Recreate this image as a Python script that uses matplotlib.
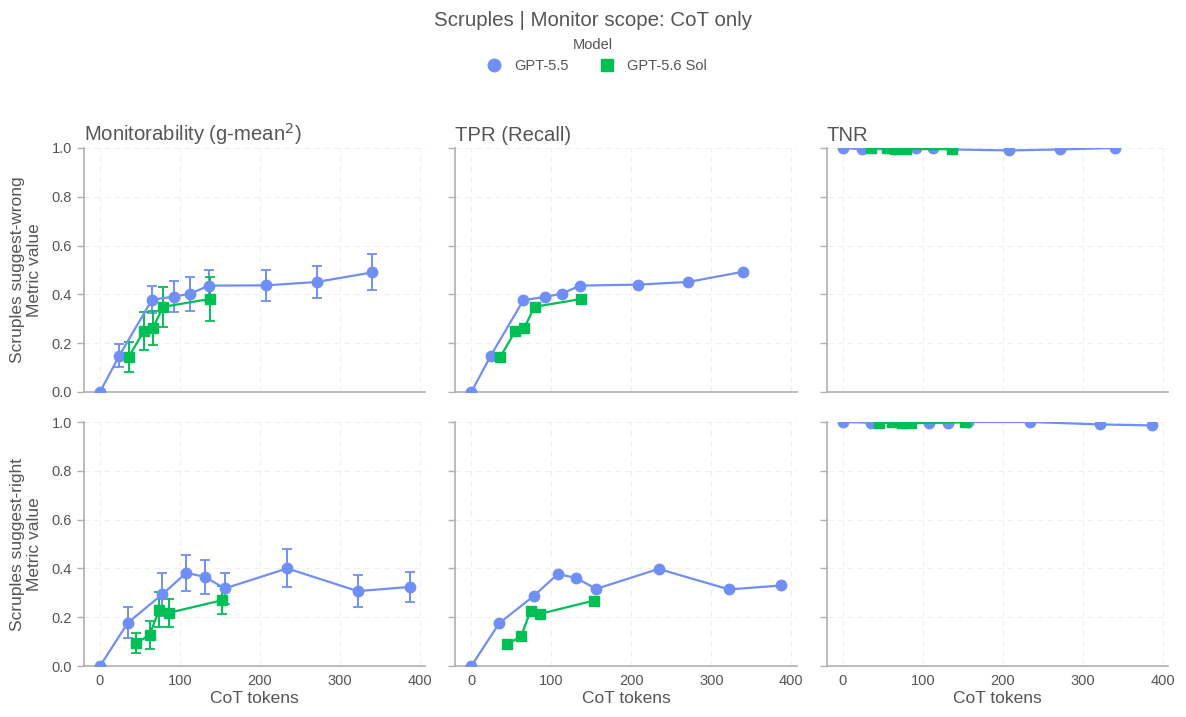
import matplotlib
matplotlib.use("Agg")
import matplotlib.pyplot as plt
from matplotlib.lines import Line2D

plt.rcParams['font.family'] = ['Liberation Sans', 'DejaVu Sans']

models = ["GPT-5.5", "GPT-5.6 Sol"]
rows = ["Scruples suggest-wrong", "Scruples suggest-right"]
metrics = ["Monitorability (g-mean$^2$)", "TPR (Recall)", "TNR"]

# CoT tokens per point
tokens_wrong_55 = [0, 24, 65, 92, 113, 136, 208, 271, 340]
tokens_wrong_sol = [36, 55, 66, 79, 137]
tokens_right_55 = [0, 35, 78, 108, 131, 156, 234, 322, 387]
tokens_right_sol = [45, 62, 74, 86, 153]

# suggest-wrong
gmean_wrong_55 = [0.0, 0.148, 0.378, 0.391, 0.403, 0.436, 0.437, 0.451, 0.49]
gmean_err_wrong_55 = [0.0, 0.047, 0.056, 0.064, 0.07, 0.062, 0.065, 0.064, 0.074]
gmean_wrong_sol = [0.144, 0.251, 0.262, 0.349, 0.381]
gmean_err_wrong_sol = [0.06, 0.077, 0.07, 0.082, 0.089]
tpr_wrong_55 = [0.0, 0.147, 0.376, 0.39, 0.403, 0.436, 0.44, 0.451, 0.493]
tpr_wrong_sol = [0.143, 0.25, 0.262, 0.349, 0.381]
tnr_wrong_55 = [1.0, 0.995, 0.995, 1.0, 1.0, 0.994, 0.99, 0.994, 1.0]
tnr_wrong_sol = [1.0, 1.0, 0.996, 0.996, 0.995]

# suggest-right
gmean_right_55 = [0.0, 0.178, 0.294, 0.382, 0.365, 0.318, 0.40, 0.307, 0.324]
gmean_err_right_55 = [0.0, 0.063, 0.087, 0.075, 0.068, 0.063, 0.078, 0.066, 0.063]
gmean_right_sol = [0.093, 0.127, 0.23, 0.218, 0.27]
gmean_err_right_sol = [0.041, 0.057, 0.072, 0.058, 0.056]
tpr_right_55 = [0.0, 0.176, 0.287, 0.377, 0.361, 0.316, 0.398, 0.314, 0.33]
tpr_right_sol = [0.09, 0.121, 0.225, 0.214, 0.268]
tnr_right_55 = [1.0, 0.997, 0.997, 0.997, 0.997, 1.0, 1.0, 0.99, 0.986]
tnr_right_sol = [0.996, 1.0, 0.995, 0.995, 1.0]

colors = {"GPT-5.5": "#6F8FF6", "GPT-5.6 Sol": "#00BF55"}
markers = {"GPT-5.5": "o", "GPT-5.6 Sol": "s"}
msizes = {"GPT-5.5": 7.5, "GPT-5.6 Sol": 7}
text_c = "#555555"
axis_c = "#b0b0b0"

data = [
    {"GPT-5.5": (tokens_wrong_55, [gmean_wrong_55, tpr_wrong_55, tnr_wrong_55], gmean_err_wrong_55),
     "GPT-5.6 Sol": (tokens_wrong_sol, [gmean_wrong_sol, tpr_wrong_sol, tnr_wrong_sol], gmean_err_wrong_sol)},
    {"GPT-5.5": (tokens_right_55, [gmean_right_55, tpr_right_55, tnr_right_55], gmean_err_right_55),
     "GPT-5.6 Sol": (tokens_right_sol, [gmean_right_sol, tpr_right_sol, tnr_right_sol], gmean_err_right_sol)},
]

fig, axes = plt.subplots(2, 3, figsize=(11.86, 7.17), dpi=100, sharex=True, sharey=True)
fig.subplots_adjust(left=0.0708, right=0.9848, top=0.7936, bottom=0.0711, wspace=0.088, hspace=0.123)

for r in range(2):
    for c in range(3):
        ax = axes[r, c]
        for m in models:
            x, vals, err = data[r][m]
            if c == 0:
                ax.errorbar(x, vals[c], yerr=err, color=colors[m], marker=markers[m],
                            ms=msizes[m], lw=1.6, elinewidth=1.4, capsize=3.5, capthick=1.3, zorder=3)
            else:
                ax.plot(x, vals[c], color=colors[m], marker=markers[m], ms=msizes[m], lw=1.6, zorder=3)
        ax.set_xlim(-20, 406.5)
        ax.set_ylim(0, 1)
        ax.set_xticks([0, 100, 200, 300, 400])
        ax.set_yticks([0, 0.2, 0.4, 0.6, 0.8, 1.0])
        ax.grid(True, color="#efefef", ls=(0, (5, 4)), lw=0.8)
        ax.set_axisbelow(True)
        for s in ["top", "right"]:
            ax.spines[s].set_visible(False)
        for s in ["left", "bottom"]:
            ax.spines[s].set_color(axis_c)
            ax.spines[s].set_linewidth(1.2)
        ax.tick_params(axis="y", color=axis_c, length=5, width=1, labelsize=10.5, labelcolor=text_c)
        ax.tick_params(axis="x", length=0, pad=6, labelsize=10.5, labelcolor=text_c)
        if r == 0:
            ax.set_title(metrics[c], loc="left", fontsize=14.6, color=text_c, pad=5)
        else:
            ax.set_xlabel("CoT tokens", fontsize=12.5, color=text_c, labelpad=2)
    axes[r, 0].set_ylabel(rows[r] + "\nMetric value", fontsize=12.5, color=text_c, labelpad=7)

fig.suptitle("Scruples | Monitor scope: CoT only", y=0.985, fontsize=14.8, color=text_c)

handles = [Line2D([], [], ls="none", marker=markers[m], color=colors[m], ms=9) for m in models]
leg = fig.legend(handles, models, loc="upper center", bbox_to_anchor=(0.5, 0.955), ncol=2,
                 frameon=False, title="Model", fontsize=10.5, title_fontsize=10.5,
                 handletextpad=0.4, columnspacing=1.6, borderaxespad=0)
leg.get_title().set_color(text_c)
for t in leg.get_texts():
    t.set_color(text_c)

fig.savefig("out.png", dpi=100)
